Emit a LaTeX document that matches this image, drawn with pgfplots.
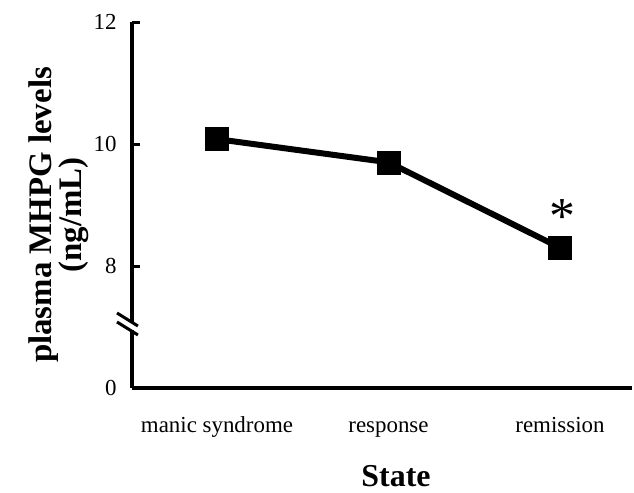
\documentclass[border=0pt]{standalone}
\usepackage{fontspec}
\setmainfont{Liberation Serif}
\usepackage{pgfplots}
\pgfplotsset{compat=1.18}
\begin{document}
\begin{tikzpicture}
\begin{axis}[
  scale only axis, width=500bp, height=366bp,
  xmin=-0.4956, xmax=2.42, ymin=6, ymax=12,
  axis x line=bottom, axis y line=left,
  x axis line style={-, line width=3.2bp},
  y axis line style={-, line width=3.2bp},
  xtick={0,1,2}, xticklabels={manic syndrome, response, remission},
  xtick style={draw=none},
  ytick={6,8,10,12}, yticklabels={0,8,10,12},
  ytick style={line width=3bp, black},
  tick align=inside,
  major tick length=8bp,
  ticklabel style={font=\fontsize{23}{27}\selectfont},
  yticklabel style={xshift=-12bp},
  xticklabel style={anchor=base, yshift=-44bp},
  xlabel={State},
  xlabel style={at={(axis description cs:0.528,0)}, anchor=base, yshift=-98bp, font=\fontsize{32}{36}\selectfont\bfseries},
  ylabel={plasma MHPG levels\\(ng/mL)},
  ylabel style={at={(axis description cs:-0.147,0.4727)}, anchor=center, align=center, font=\fontsize{33}{30}\selectfont\bfseries},
  clip=false,
  after end axis/.code={
    \fill[white] (axis cs:-0.53,6.951) rectangle (axis cs:-0.46,7.066);
    \draw[line width=3bp] (axis cs:-0.583,7.230) -- (axis cs:-0.461,7.016);
    \draw[line width=3bp] (axis cs:-0.583,7.082) -- (axis cs:-0.461,6.869);
    \node[anchor=base, font=\fontsize{52}{52}\selectfont, inner sep=0pt] at (axis cs:2.012,8.536) {*};
  },
]
\addplot[black, line width=6bp, mark=square*, mark size=11.5bp, mark options={solid, line width=0.5bp}] coordinates {(0,10.08) (1,9.70) (2,8.30)};
\end{axis}
\pgfresetboundingbox
\path (-132bp,-105bp) rectangle (502bp,388bp);
\end{tikzpicture}
\end{document}
